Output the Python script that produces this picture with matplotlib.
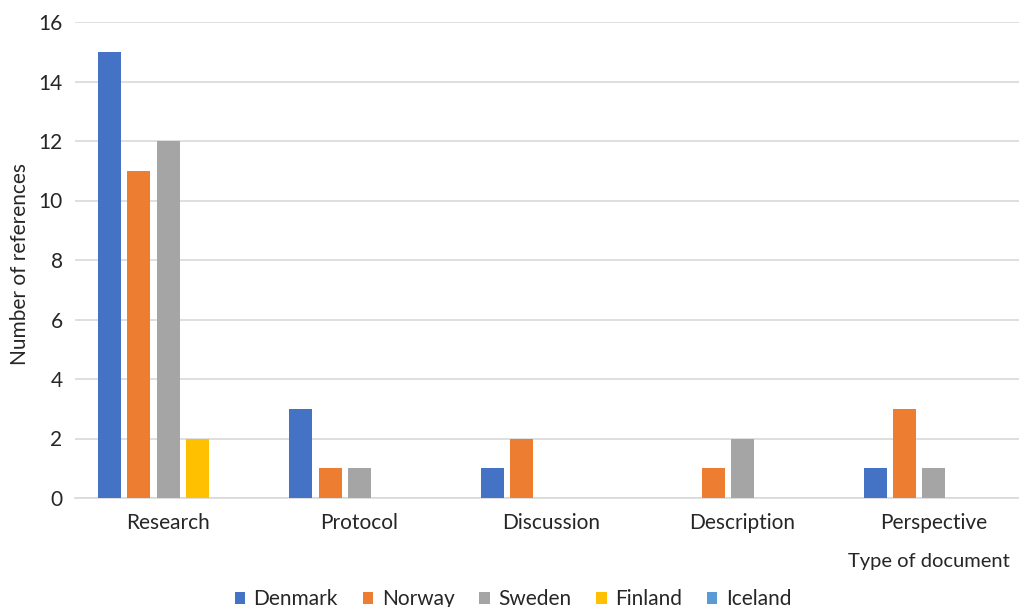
import matplotlib
matplotlib.use("Agg")
import matplotlib.pyplot as plt
import numpy as np

categories = ["Research", "Protocol", "Discussion", "Description", "Perspective"]
countries = ["Denmark", "Norway", "Sweden", "Finland", "Iceland"]
denmark = [15, 3, 1, 0, 1]
norway = [11, 1, 2, 1, 3]
sweden = [12, 1, 0, 2, 1]
finland = [2, 0, 0, 0, 0]
iceland = [0, 0, 0, 0, 0]
series = [denmark, norway, sweden, finland, iceland]
colors = ["#4472C4", "#ED7D31", "#A5A5A5", "#FFC000", "#5B9BD5"]
yticks = [0, 2, 4, 6, 8, 10, 12, 14, 16]

plt.rcParams['font.family'] = ['Lato', 'DejaVu Sans']
fig = plt.figure(figsize=(10.19, 6.07), dpi=100)
ax = fig.add_axes([75/1019, 1-498/607, 1-75/1019, (498-22)/607])

x = np.arange(len(categories))
pitch = 0.153
width = 0.12
for i, (name, vals, c) in enumerate(zip(countries, series, colors)):
    ax.bar(x + (i - 2) * pitch, vals, width=width, color=c, label=name, zorder=3)

ax.set_xlim(-0.486, 4.444)
ax.set_ylim(0, 16)
ax.set_yticks(yticks)
ax.set_xticks(x)
ax.set_xticklabels(categories)
ax.grid(axis='y', color='#D9D9D9', linewidth=1.2, zorder=0)
for s in ['top', 'right', 'left']:
    ax.spines[s].set_visible(False)
ax.spines['bottom'].set_color('#D9D9D9')
ax.spines['bottom'].set_linewidth(1.2)
ax.tick_params(axis='both', length=0, labelsize=15, pad=9)
ax.tick_params(axis='x', pad=11)
for lab in ax.get_xticklabels() + ax.get_yticklabels():
    lab.set_color('#262626')

fig.text(20/1019, 1-264/607, "Number of references", rotation=90, ha='center', va='center',
         fontsize=15, color='#262626')
fig.text(1010/1019, 1-561/607, "Type of document", ha='right', va='center',
         fontsize=14.5, color='#262626')

leg = fig.legend(loc='center', bbox_to_anchor=(513/1019, 1-599/607), ncol=5, frameon=False,
                 fontsize=15, handlelength=0.5, handleheight=0.5, columnspacing=1.2,
                 handletextpad=0.4)
for t in leg.get_texts():
    t.set_color('#262626')

fig.savefig("out.png", dpi=100)
